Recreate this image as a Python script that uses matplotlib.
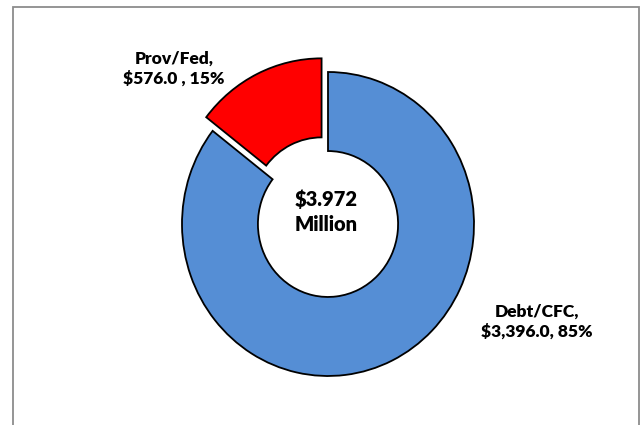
import matplotlib
matplotlib.use("Agg")
import matplotlib.pyplot as plt
from matplotlib.patches import Rectangle

categories = ["Debt/CFC", "Prov/Fed"]
values = [3396.0, 576.0]
percents = ["85%", "15%"]
value_labels = ["$3,396.0", "$576.0 "]
center_text = ["$3.972", "Million"]
colors = ["#558ED5", "#FF0000"]
explode = [0.0, 0.1]

W, H = 641, 425
fig = plt.figure(figsize=(W / 100, H / 100), dpi=100)
fig.patch.set_facecolor("white")

# frame border
fig.add_artist(Rectangle((12.5 / W, -0.05), (639 - 12.5) / W, 1.05 - 6.5 / H,
                         transform=fig.transFigure, fill=False,
                         edgecolor="#8C8C8C", linewidth=1.3))

cx, cy, rx, ry = 328, 224, 146, 152
ax = fig.add_axes([(cx - rx) / W, (H - cy - ry) / H, 2 * rx / W, 2 * ry / H])
wedges, _ = ax.pie(values, colors=colors, startangle=90, counterclock=False,
                   explode=explode, radius=1.0,
                   wedgeprops=dict(width=0.52, edgecolor="black", linewidth=1.3))
for w in wedges:
    w.set_clip_on(False)
ax.set_xlim(-1, 1)
ax.set_ylim(-1, 1)
ax.set_aspect("auto")
ax.axis("off")

font = dict(family=["Lato", "DejaVu Sans"], fontweight="heavy", color="black")

def px(x, y):
    return ((x - cx) / rx, (cy - y) / ry)

lbl_pos = [(537, 322), (174, 69)]
for cat, val, pct, (x, y) in zip(categories, value_labels, percents, lbl_pos):
    tx, ty = px(x, y)
    ax.text(tx, ty, f"{cat},\n{val}, {pct}", ha="center", va="center",
            fontsize=12.5, linespacing=1.3, clip_on=False, **font)

tx, ty = px(326, 212)
ax.text(tx, ty, "\n".join(center_text), ha="center", va="center",
        fontsize=14.5, linespacing=1.35, **font)

fig.savefig("out.png", dpi=100)
